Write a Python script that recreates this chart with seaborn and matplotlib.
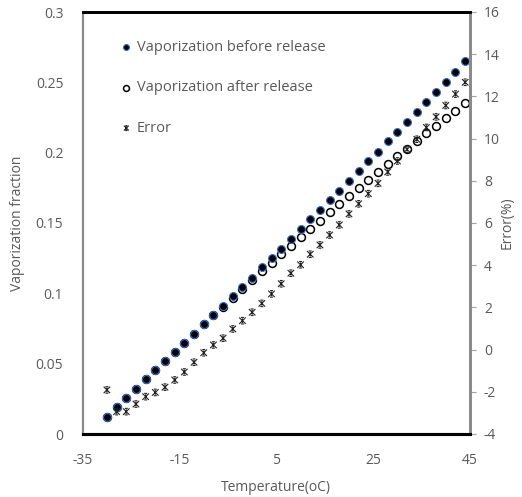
import matplotlib
matplotlib.use("Agg")
import matplotlib.pyplot as plt
import seaborn as sns
import pandas as pd
from matplotlib.path import Path

temperature = [-30, -28, -26, -24, -22, -20, -18, -16, -14, -12, -10, -8, -6, -4, -2,
               0, 2, 4, 6, 8, 10, 12, 14, 16, 18, 20, 22, 24, 26, 28, 30, 32, 34, 36,
               38, 40, 42, 44]
vap_before = [0.0121, 0.0191, 0.0256, 0.0320, 0.0390, 0.0455, 0.0520, 0.0586, 0.0650,
              0.0714, 0.0782, 0.0846, 0.0910, 0.0979, 0.1044, 0.1112, 0.1185, 0.1251,
              0.1317, 0.1388, 0.1455, 0.1526, 0.1592, 0.1661, 0.1730, 0.1799, 0.1870,
              0.1939, 0.2007, 0.2081, 0.2149, 0.2218, 0.2289, 0.2362, 0.2433, 0.2504,
              0.2576, 0.2652]
vap_after = [0.0121, 0.0191, 0.0256, 0.0320, 0.0390, 0.0455, 0.0520, 0.0586, 0.0650,
             0.0714, 0.0782, 0.0844, 0.0905, 0.0965, 0.1033, 0.1095, 0.1158, 0.1217,
             0.1277, 0.1339, 0.1398, 0.1457, 0.1516, 0.1576, 0.1635, 0.1690, 0.1749,
             0.1806, 0.1860, 0.1917, 0.1976, 0.2028, 0.2085, 0.2138, 0.2192, 0.2245,
             0.2298, 0.2353]
error_pct = [-1.91, -2.94, -2.94, -2.58, -2.23, -2.03, -1.78, -1.44, -1.06, -0.60, -0.15,
             0.22, 0.54, 0.98, 1.37, 1.77, 2.19, 2.64, 3.12, 3.62, 4.02, 4.52, 4.96, 5.43,
             5.91, 6.43, 6.91, 7.39, 7.88, 8.42, 8.94, 9.49, 9.97, 10.53, 11.03, 11.57,
             12.11, 12.67]

x_ticks = [-35, -15, 5, 25, 45]
left_ticks = [0, 0.05, 0.1, 0.15, 0.2, 0.25, 0.3]
left_labels = ["0", "0.05", "0.1", "0.15", "0.2", "0.25", "0.3"]
right_ticks = [-4, -2, 0, 2, 4, 6, 8, 10, 12, 14, 16]

df = pd.DataFrame({"T": temperature, "before": vap_before, "after": vap_after,
                   "err": error_pct})

sns.set_style("white")
plt.rcParams['font.family'] = ['Open Sans', 'DejaVu Sans']
gray = "#595959"

fig = plt.figure(figsize=(5.22, 4.97), dpi=100)
ax = fig.add_axes([82.7/522, 1-434/497, (470-82.7)/522, (434-12)/497])
ax2 = ax.twinx()

star = Path([(-1, -1), (1, 1), (-1, 1), (1, -1), (-0.45, 1), (0.45, 1),
             (-0.45, -1), (0.45, -1), (0, -0.7), (0, 0.7)],
            [Path.MOVETO, Path.LINETO, Path.MOVETO, Path.LINETO, Path.MOVETO,
             Path.LINETO, Path.MOVETO, Path.LINETO, Path.MOVETO, Path.LINETO])

sns.scatterplot(data=df, x="T", y="after", ax=ax, marker="o", s=32,
                facecolor="white", edgecolor="black", linewidth=1.1,
                label="Vaporization after release", zorder=3)
sns.scatterplot(data=df, x="T", y="before", ax=ax, marker="o", s=32,
                color="black", edgecolor="#3b6fd0", linewidth=0.8,
                label="Vaporization before release", zorder=4)
sns.scatterplot(data=df, x="T", y="err", ax=ax2, marker=star, s=22,
                color="none", edgecolor="#222222", linewidth=0.8,
                label="Error", zorder=3)

ax.set_xlim(-35, 45)
ax.set_ylim(0, 0.3)
ax2.set_ylim(-4, 16)
ax.set_xticks(x_ticks)
ax.set_xticklabels([str(t) for t in x_ticks])
ax.set_yticks(left_ticks)
ax.set_yticklabels(left_labels)
ax2.set_yticks(right_ticks)
ax2.set_yticklabels([str(t) for t in right_ticks])

ax.tick_params(axis="x", direction="in", length=5, width=1.5, color="black",
               labelsize=10, labelcolor=gray, pad=14)
ax.tick_params(axis="y", length=0, labelsize=10, labelcolor=gray, pad=14)
ax2.tick_params(axis="y", direction="out", length=4, width=0.8, color="#a0a0a0",
                labelsize=10, labelcolor=gray, pad=6)

ax.set_xlabel("Temperature(oC)", fontsize=10, color=gray, labelpad=8)
ax.set_ylabel("Vaporization fraction", fontsize=10, color=gray, labelpad=8)
ax2.set_ylabel("Error(%)", fontsize=10, color=gray, labelpad=0)

for a in (ax, ax2):
    a.spines["top"].set_color("black")
    a.spines["top"].set_linewidth(2)
    a.spines["bottom"].set_color("black")
    a.spines["bottom"].set_linewidth(2.2)
    a.spines["left"].set_color("#8a8a8a")
    a.spines["left"].set_linewidth(1.5)
    a.spines["right"].set_color("#8a8a8a")
    a.spines["right"].set_linewidth(2)

ax.get_legend().remove()
ax2.get_legend().remove()
h1, l1 = ax.get_legend_handles_labels()
h2, l2 = ax2.get_legend_handles_labels()
handles = [h1[1], h1[0], h2[0]]
labels = [l1[1], l1[0], l2[0]]
leg = ax.legend(handles, labels, loc="upper left", bbox_to_anchor=(0.06, 0.965),
                frameon=False, fontsize=10.5, labelspacing=1.75, handletextpad=0.2,
                handlelength=1.0, markerscale=0.75)
for t in leg.get_texts():
    t.set_color(gray)
leg.set_zorder(10)

fig.savefig("out.png", dpi=100)
